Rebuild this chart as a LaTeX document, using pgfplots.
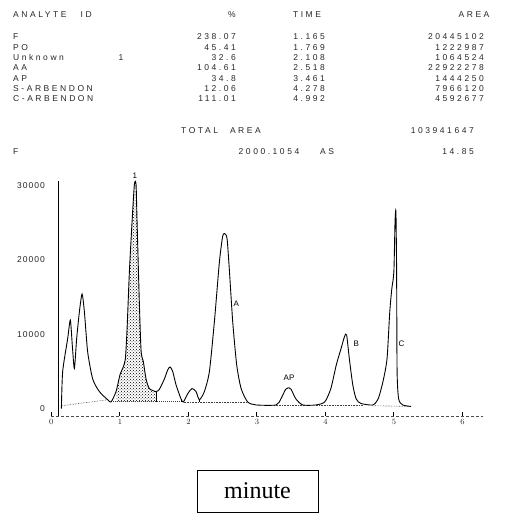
\documentclass[border=0pt]{standalone}
\usepackage{fontspec}
\setmainfont{Liberation Sans}
\newfontfamily\serif{Liberation Serif}
\newfontfamily\wide[LetterSpace=30]{Liberation Sans}
\newfontfamily\semi[LetterSpace=12]{Liberation Sans}
\usepackage{pgfplots}
\pgfplotsset{compat=1.18}
\usetikzlibrary{patterns}

\begin{document}
\begin{tikzpicture}[x=1pt,y=1pt]
  \useasboundingbox (0,0) rectangle (514,513);

  % report header (scanned printout)
  \begin{scope}[every node/.style={font=\wide\fontsize{8.5}{9}\selectfont, text=black!85, inner sep=0pt}]
    \node[anchor=west] at (13,498) {ANALYTE\hspace{14pt}ID};
    \node at (232,498) {\%};
    \node at (307,498) {TIME};
    \node at (474,498) {AREA};
    \foreach \n/\p/\t/\a [count=\i from 0] in
      {F/238.07/1.165/20445102,
       PO/45.41/1.769/1222987,
       Unknown/32.6/2.108/1064524,
       AA/104.61/2.518/22922278,
       AP/34.8/3.461/1444250,
       S-ARBENDON/12.06/4.278/7966120,
       C-ARBENDON/111.01/4.992/4592677} {
      \node[anchor=west] at (13,476-10.3*\i) {\n};
      \node[anchor=east] at (236,476-10.3*\i) {\p};
      \node[anchor=east] at (325,476-10.3*\i) {\t};
      \node[anchor=east] at (484,476-10.3*\i) {\a};
    }
    \node at (121,455.4) {1};
    \node at (221,382) {TOTAL\hspace{12pt}AREA};
    \node[anchor=east] at (474,382) {103941647};
    \node[anchor=west] at (13,361) {F};
    \node at (269,361) {2000.1054};
    \node at (327,361) {AS};
    \node[anchor=east] at (474,361) {14.85};
  \end{scope}

  \begin{axis}[
    at={(75,140)}, anchor=origin,
    scale only axis, width=431.55, height=234.7,
    xmin=0, xmax=6.3, ymin=-1000, ymax=30500,
    clip=false,
    axis x line=bottom,
    x axis line style={densely dashed, black!70, -},
    axis y line*=left,
    y axis line style={draw=none},
    ytick={0,10000,20000,30000},
    yticklabels={0,10000,20000,30000},
    ytick style={draw=none},
    xtick={0,1,2,3,4,5,6},
    xtick style={black, line width=0.8pt},
    tick align=inside,
    major tick length=4pt,
    scaled y ticks=false,
    ticklabel style={font=\semi\fontsize{8.5}{9}\selectfont, text=black!85},
    yticklabel style={xshift=-3pt},
  ]
    % shaded integration area of the main peak
    \addplot[draw=none, pattern=crosshatch dots, pattern color=black] coordinates {
      (0.944,900)(0.944,2300)(1.003,4600)(1.041,5400)(1.080,6700)(1.105,10700)(1.139,18400)
      (1.178,25100)(1.212,30100)(1.236,30100)(1.251,25100)(1.285,14000)(1.310,7700)
      (1.343,6300)(1.382,4000)(1.430,2700)(1.528,2300)(1.528,900)
    } -- cycle;

    % integration baselines
    \addplot[densely dotted, black!75, line width=0.6pt] coordinates {(0.16,400)(0.82,1200)};
    \addplot[densely dotted, black!75, line width=1pt] coordinates {(0.87,900)(1.93,900)};
    \addplot[densely dotted, black!75, line width=0.6pt] coordinates {(1.93,900)(2.87,900)};
    \addplot[densely dotted, black!75, line width=0.6pt] coordinates {(3.25,400)(3.70,400)};
    \addplot[densely dotted, black!75, line width=0.6pt] coordinates {(3.86,500)(4.55,500)};
    \addplot[densely dotted, black!75, line width=0.6pt] coordinates {(4.68,400)(5.25,300)};
    % peak drop lines
    \addplot[black, line width=0.9pt] coordinates {(1.528,900)(1.528,2300)};
    \addplot[black, line width=0.7pt] coordinates {(1.900,900)(1.900,1250)};
    \addplot[black, line width=0.7pt] coordinates {(2.160,900)(2.160,1200)};

    % solvent front
    \addplot[black, line width=0.9pt] coordinates {(0.1,-1000)(0.1,30500)};

    % detector signal
    \addplot[black, line width=0.9pt, smooth, tension=0.4] coordinates {
      (0.146,0)(0.165,5000)(0.238,9400)(0.277,11900)(0.307,8300)(0.336,5400)(0.369,9400)
      (0.409,13000)(0.448,15400)(0.482,13000)(0.530,7600)(0.603,4000)(0.700,2300)
      (0.822,1200)(0.871,900)(0.944,2300)(1.003,4600)(1.041,5400)(1.080,6700)(1.105,10700)
      (1.139,18400)(1.178,25100)(1.212,30100)(1.236,30100)(1.251,25100)(1.285,14000)
      (1.310,7700)(1.343,6300)(1.382,4000)(1.430,2700)(1.528,2300)(1.577,2600)(1.650,4000)
      (1.698,5200)(1.733,5600)(1.771,5000)(1.820,3200)(1.893,1300)(1.927,900)(1.990,2000)
      (2.054,2700)(2.112,2300)(2.160,1200)(2.234,2300)(2.307,5000)(2.380,11700)(2.453,19700)
      (2.500,23100)(2.530,23500)(2.565,22800)(2.600,18400)(2.647,11700)(2.705,5900)
      (2.770,2700)(2.866,900)(2.990,500)(3.280,500)(3.350,1300)(3.420,2600)(3.470,2800)
      (3.500,2600)(3.570,1300)(3.670,500)(3.860,500)(3.990,900)(4.080,2700)(4.160,5900)
      (4.230,8100)(4.280,9700)(4.310,9900)(4.350,6700)(4.400,3200)(4.450,1300)(4.520,700)
      (4.690,500)(4.770,1300)(4.840,3600)(4.900,6700)(4.940,13000)(4.970,16100)(5.000,18400)
      (5.017,25100)(5.030,26400)(5.040,18400)(5.047,5000)(5.070,1300)(5.130,500)(5.250,300)
    };

    % peak labels
    \begin{scope}[every node/.style={font=\fontsize{8}{9}\selectfont, inner sep=0pt}]
      \node at (axis cs:1.22,31200) {1};
      \node at (axis cs:2.70,14100) {A};
      \node at (axis cs:3.47,4100) {AP};
      \node at (axis cs:4.45,8700) {B};
      \node at (axis cs:5.11,8700) {C};
    \end{scope}
  \end{axis}

  % axis title box
  \node[draw, line width=0.6pt, minimum width=121, minimum height=42, inner sep=0pt,
        font=\serif\fontsize{24}{26}\selectfont] at (257.5,22) {minute};
\end{tikzpicture}
\end{document}
